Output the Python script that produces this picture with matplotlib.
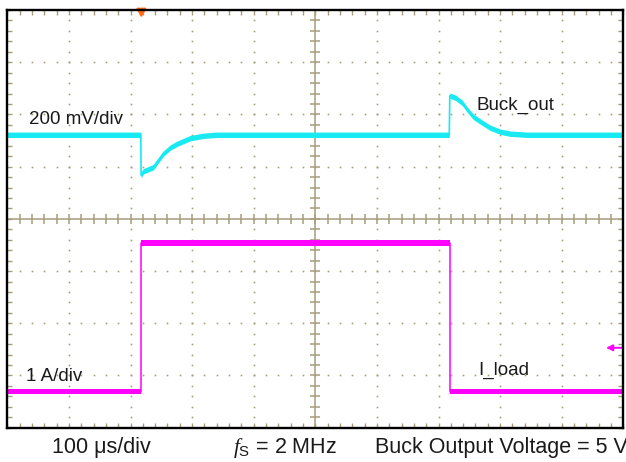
import matplotlib
matplotlib.use("Agg")
import matplotlib.pyplot as plt
from matplotlib.patches import Polygon
import numpy as np

plt.rcParams['font.family'] = ['Liberation Sans', 'DejaVu Sans']
plt.rcParams['mathtext.fontset'] = 'custom'
plt.rcParams['mathtext.it'] = 'Liberation Serif:italic'
plt.rcParams['mathtext.rm'] = 'Liberation Sans'

# scope data, time in us (100 us/div)
buck_t = [0, 216.7, 217.2, 220.8, 237, 253, 264.6, 276, 297, 318, 338,
          717.5, 718.3, 727.6, 738.6, 746.8, 756.5, 771, 784, 800, 816.5, 844, 1000]
buck_mv = [0, 0, -155, -140, -124, -73, -49, -34, -13, -4, 0,
           0, 150, 142, 122, 96, 69, 46, 27, 12, 4, 0, 0]

load_t = [0, 216.7, 216.7, 718.5, 718.5, 1000]
load_a = [0, 0, 2.85, 2.85, 0, 0]

# channel settings (scale per div, position in div)
BUCK_SCALE = 200
BUCK_POS = 1.61
LOAD_SCALE = 1
LOAD_POS = -3.31
TRIG_T = 217.6

TAN = '#a69d7a'
CYAN = '#19eaf2'
MAGENTA = '#ff00ff'
TXT = '#1a1a1a'

fig = plt.figure(figsize=(6.26, 4.62), dpi=100)
ax = fig.add_axes([7.3 / 626, 1 - 427.7 / 462, 616 / 626, 417.7 / 462])
ax.set_xlim(0, 1000)
ax.set_ylim(-4, 4)

ax.set_xticks(np.arange(0, 1001, 100))
ax.set_xticks(np.arange(0, 1001, 20), minor=True)
ax.set_yticks(np.arange(-4, 4.01, 1))
ax.set_yticks(np.arange(-4, 4.01, 0.2), minor=True)
ax.tick_params(which='both', direction='in', length=3.8, width=1.0, color=TAN,
               top=True, right=True, labelbottom=False, labelleft=False)
for s in ax.spines.values():
    s.set_linewidth(1.7)
    s.set_color('black')
    s.set_zorder(6)

# dotted graticule
xs_minor = np.arange(0, 1000.1, 20)
ys_minor = np.arange(-4, 4.01, 0.2)
for xv in range(100, 1000, 100):
    if xv == 500:
        continue
    ax.plot(np.full(len(ys_minor), xv), ys_minor, ls='none', marker='s', ms=1.2,
            mew=0, color=TAN, zorder=1)
for yv in range(-3, 4):
    if yv == 0:
        continue
    ax.plot(xs_minor, np.full(len(xs_minor), yv), ls='none', marker='s', ms=1.2,
            mew=0, color=TAN, zorder=1)

# center crosshair with ticks
ax.axvline(500, color=TAN, lw=1.1, zorder=1)
ax.axhline(0, color=TAN, lw=1.1, zorder=1)
ax.plot(np.full(len(ys_minor), 500), ys_minor, ls='none', marker='_', ms=7.5,
        mew=1.1, color=TAN, zorder=1)
ax.plot(xs_minor, np.zeros(len(xs_minor)), ls='none', marker='|', ms=7.5,
        mew=1.1, color=TAN, zorder=1)

# traces
h = 0.052
buck_y = BUCK_POS + np.array(buck_mv) / BUCK_SCALE
load_y = LOAD_POS + np.array(load_a) / LOAD_SCALE
ax.fill_between(buck_t, buck_y - h, buck_y + h, color=CYAN, lw=0, zorder=3)
ax.plot(buck_t, buck_y, color=CYAN, lw=1.2, zorder=3)
ax.fill_between(load_t, load_y - h, load_y + h, color=MAGENTA, lw=0, zorder=3)
ax.plot(load_t, load_y, color=MAGENTA, lw=1.1, zorder=3)

# trigger marker and level arrow
tri = Polygon([(TRIG_T - 7, 1.004), (TRIG_T + 7, 1.004), (TRIG_T, 0.985)],
              closed=True, color='#ff6a13', transform=ax.get_xaxis_transform(),
              clip_on=False, zorder=5)
ax.add_patch(tri)
ax.annotate('', xy=(972, -2.47), xytext=(1000, -2.47),
            arrowprops=dict(arrowstyle='-|>', color=MAGENTA, lw=1.4,
                            mutation_scale=9, shrinkA=0, shrinkB=0), zorder=5)

# labels
ax.text(35, 1.81, '200 mV/div', fontsize=13.5, color=TXT, va='baseline')
ax.text(761, 2.08, 'Buck_out', fontsize=13.5, color=TXT, va='baseline')
ax.text(30, -3.10, '1 A/div', fontsize=13.5, color=TXT, va='baseline')
ax.text(764, -2.99, 'I_load', fontsize=13.5, color=TXT, va='baseline')

fig.text(52 / 626, 1 - 453 / 462, '100 \u03bcs/div', fontsize=15.5, color=TXT, va='baseline')
fig.text(233 / 626, 1 - 453 / 462, r'$f_\mathrm{S}$ = 2 MHz', fontsize=15.5, color=TXT,
         va='baseline')
fig.text(375 / 626, 1 - 453 / 462, 'Buck Output Voltage = 5 V', fontsize=15.5, color=TXT,
         va='baseline')

fig.savefig('out.png', dpi=100, facecolor='white')
